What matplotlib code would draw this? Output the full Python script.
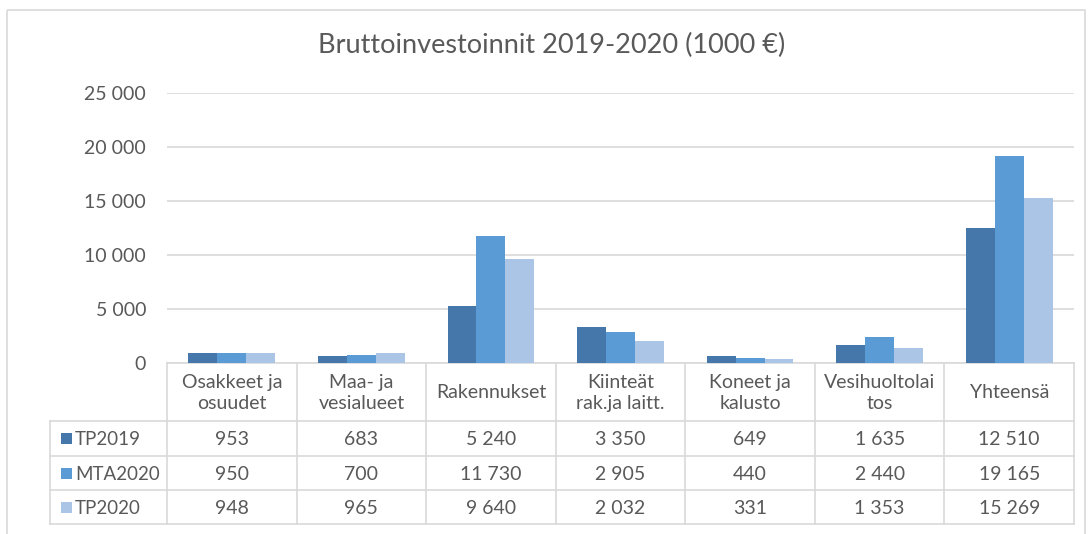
import matplotlib
matplotlib.use("Agg")
import matplotlib.pyplot as plt
import matplotlib.transforms as mtransforms
from matplotlib.patches import Rectangle
from matplotlib.lines import Line2D

# ---- data ----
title = "Bruttoinvestoinnit 2019-2020 (1000 €)"
categories = ["Osakkeet ja\nosuudet", "Maa- ja\nvesialueet", "Rakennukset",
              "Kiinteät\nrak.ja laitt.", "Koneet ja\nkalusto",
              "Vesihuoltolai\ntos", "Yhteensä"]
series_names = ["TP2019", "MTA2020", "TP2020"]
tp2019 = [953, 683, 5240, 3350, 649, 1635, 12510]
mta2020 = [950, 700, 11730, 2905, 440, 2440, 19165]
tp2020 = [948, 965, 9640, 2032, 331, 1353, 15269]
yticks = [0, 5000, 10000, 15000, 20000, 25000]

series = [tp2019, mta2020, tp2020]
colors = ["#4677AB", "#5B9BD5", "#ABC5E6"]
grid_col = "#D9D9D9"
txt_col = "#595959"

plt.rcParams['font.family'] = ['Lato', 'DejaVu Sans']

W, H = 1089, 534
fig = plt.figure(figsize=(W / 100, H / 100), dpi=100)

def fx(x):
    return x / W

def fy(y):
    return 1 - y / H

# overlay axes in pixel coordinates
tax = fig.add_axes([0, 0, 1, 1])
tax.set_xlim(0, W)
tax.set_ylim(H, 0)
tax.axis("off")

# chart border
tax.add_patch(Rectangle((7, 10), 1078, 540, fill=False, edgecolor=grid_col, lw=1.2))

# plot area
left, right, top, bottom = 167, 1074, 93, 363
ax = fig.add_axes([fx(left), fy(bottom), fx(right) - fx(left), fy(top) - fy(bottom)])
n = len(categories)
ax.set_xlim(-0.5, n - 0.5)
ax.set_ylim(0, 25000)
bw = 0.223
for k, (vals, c) in enumerate(zip(series, colors)):
    xs = [i + (k - 1) * bw for i in range(n)]
    ax.bar(xs, vals, width=bw, color=c, zorder=3, linewidth=0)
ax.set_yticks(yticks)
ax.set_yticklabels([f"{v:,}".replace(",", " ") for v in yticks], color=txt_col, fontsize=14)
ax.tick_params(axis='y', length=0, pad=15)
ax.set_xticks([])
for s in ax.spines.values():
    s.set_visible(False)
ax.yaxis.grid(True, color=grid_col, lw=1.2, zorder=0)
ax.set_axisbelow(True)
ax.patch.set_alpha(0)

fig.text(fx(552), fy(45), title, ha="center", va="center", fontsize=19.5, color=txt_col)

# ---- data table ----
blend = mtransforms.blended_transform_factory(ax.transData, tax.transData)
row_y = [363, 421, 456, 490, 524]
leg_left = 50
lw_t = 1.2
# vertical lines between columns
for i in range(n + 1):
    tax.add_line(Line2D([i - 0.5, i - 0.5], [row_y[0], row_y[-1]], transform=blend,
                        color=grid_col, lw=lw_t))
# horizontal lines
tax.add_line(Line2D([-0.5, n - 0.5], [row_y[0], row_y[0]], transform=blend, color=grid_col, lw=lw_t))
for y in row_y[1:]:
    tax.add_line(Line2D([leg_left, right], [y, y], color=grid_col, lw=lw_t))
tax.add_line(Line2D([leg_left, leg_left], [row_y[1], row_y[-1]], color=grid_col, lw=lw_t))

# header
for i, cat in enumerate(categories):
    tax.text(i, (row_y[0] + row_y[1]) / 2 + 1, cat, transform=blend, ha="center", va="center",
             fontsize=14, color=txt_col, linespacing=1.35)

# rows
for r, (name, vals, c) in enumerate(zip(series_names, series, colors)):
    yc = (row_y[r + 1] + row_y[r + 2]) / 2
    tax.add_patch(Rectangle((61, yc - 5.5), 11, 11, color=c, lw=0))
    tax.text(75, yc + 1, name, ha="left", va="center", fontsize=13.5, color=txt_col)
    for i, v in enumerate(vals):
        tax.text(i, yc + 1, f"{v:,}".replace(",", " "), transform=blend, ha="center",
                 va="center", fontsize=14, color=txt_col)

fig.savefig("out.png", dpi=100)
